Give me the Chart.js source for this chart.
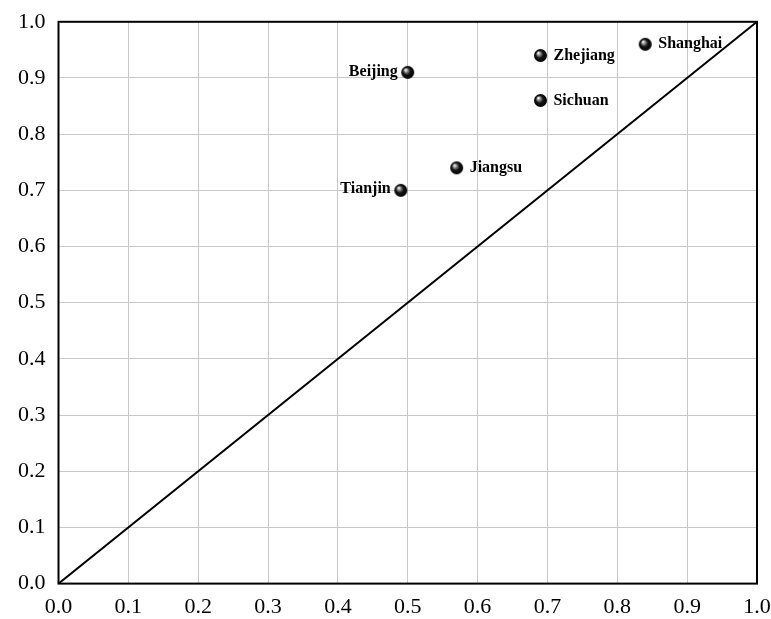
<!DOCTYPE html>
<html lang="en">
<head>
    <meta charset="UTF-8">
    <title>Scatter</title>
    <script src="https://cdn.jsdelivr.net/npm/chart.js"></script>
    <style>
        html, body { margin: 0; padding: 0; background: #fff; }
        #wrap { width: 771px; height: 619px; }
    </style>
</head>
<body>
    <div id="wrap"><canvas id="scatterChart" width="771" height="619"></canvas></div>

    <script>
        const regions = ['Beijing', 'Tianjin', 'Jiangsu', 'Zhejiang', 'Sichuan', 'Shanghai'];
        const xValues = [0.50, 0.49, 0.57, 0.69, 0.69, 0.84];
        const yValues = [0.91, 0.70, 0.74, 0.94, 0.86, 0.96];
        // labels on the left of the point for these
        const labelSide = ['left', 'left', 'right', 'right', 'right', 'right'];
        const diagonal = [{ x: 0, y: 0 }, { x: 1, y: 1 }];

        // shiny black ball used as point style
        function makeBall(r) {
            const c = document.createElement('canvas');
            c.width = r * 2 + 2;
            c.height = r * 2 + 2;
            const g = c.getContext('2d');
            const cx = r + 1, cy = r + 1;
            const grad = g.createRadialGradient(cx - r * 0.35, cy - r * 0.4, r * 0.05, cx, cy, r);
            grad.addColorStop(0, '#ffffff');
            grad.addColorStop(0.25, '#8a8a8a');
            grad.addColorStop(0.55, '#151515');
            grad.addColorStop(1, '#000000');
            g.fillStyle = grad;
            g.beginPath();
            g.arc(cx, cy, r, 0, Math.PI * 2);
            g.fill();
            return c;
        }
        const ball = makeBall(6.5);

        const pointLabels = {
            id: 'pointLabels',
            afterDatasetsDraw(chart) {
                const ctx = chart.ctx;
                const xs = chart.scales.x, ys = chart.scales.y;
                ctx.save();
                ctx.font = 'bold 16px "Liberation Serif", "Times New Roman", serif';
                ctx.fillStyle = '#000';
                ctx.textBaseline = 'middle';
                regions.forEach((name, i) => {
                    const px = xs.getPixelForValue(xValues[i]);
                    const py = ys.getPixelForValue(yValues[i]);
                    if (labelSide[i] === 'left') {
                        ctx.textAlign = 'right';
                        ctx.fillText(name, px - 10, py - 1);
                    } else {
                        ctx.textAlign = 'left';
                        ctx.fillText(name, px + 13, py);
                    }
                });
                ctx.restore();
            }
        };

        const frame = {
            id: 'frame',
            afterDatasetsDraw(chart) {
                const a = chart.chartArea;
                const ctx = chart.ctx;
                ctx.save();
                ctx.strokeStyle = '#000';
                ctx.lineWidth = 2;
                ctx.strokeRect(a.left, a.top, a.right - a.left, a.bottom - a.top);
                ctx.restore();
            }
        };

        const serif = '"Liberation Serif", "Times New Roman", serif';

        const ctx = document.getElementById('scatterChart').getContext('2d');
        const chart = new Chart(ctx, {
            type: 'scatter',
            data: {
                datasets: [{
                    data: diagonal,
                    showLine: true,
                    borderColor: '#000',
                    borderWidth: 2,
                    pointRadius: 0
                }, {
                    data: regions.map((r, i) => ({ x: xValues[i], y: yValues[i] })),
                    pointStyle: ball,
                    pointRadius: 6.5
                }]
            },
            plugins: [pointLabels, frame],
            options: {
                responsive: false,
                animation: false,
                layout: { padding: { top: 0, right: 0, left: 5, bottom: -11 } },
                plugins: { legend: { display: false }, tooltip: { enabled: false } },
                scales: {
                    x: {
                        min: 0, max: 1,
                        grid: { color: '#c8c8c8', drawTicks: false },
                        border: { display: false },
                        afterFit: s => { s.paddingRight = 14; s.paddingLeft = 14; },
                        ticks: {
                            stepSize: 0.1, padding: 10, color: '#000',
                            font: { family: serif, size: 22 },
                            callback: v => v.toFixed(1)
                        }
                    },
                    y: {
                        min: 0, max: 1,
                        grid: { color: '#c8c8c8', drawTicks: false },
                        border: { display: false },
                        ticks: {
                            stepSize: 0.1, padding: 13, color: '#000',
                            font: { family: serif, size: 22, lineHeight: 0.8 },
                            callback: v => v.toFixed(1)
                        }
                    }
                }
            }
        });
    </script>
</body>
</html>
